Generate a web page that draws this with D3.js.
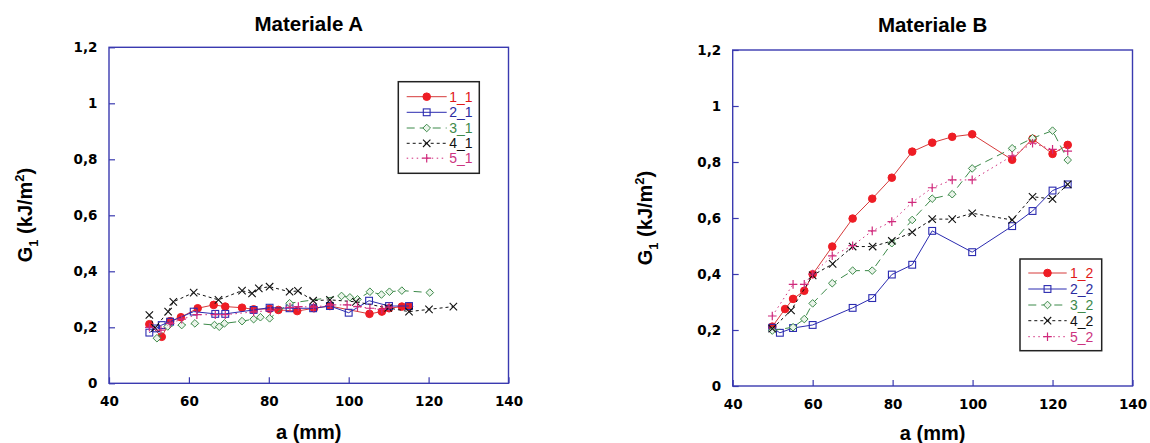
<!DOCTYPE html>
<html lang="it">
<head>
<meta charset="utf-8">
<title>Materiale A / B</title>
<script src="https://cdn.jsdelivr.net/npm/d3@7"></script>
<style>
  body { margin: 0; background: #fff; }
  svg text { font-family: "Liberation Sans", Arial, sans-serif; }
  svg .tick text { font-family: "DejaVu Sans", sans-serif; font-weight: bold; font-size: 13.5px; fill: #000; }
</style>
</head>
<body>
<svg id="chart" width="1150" height="443"></svg>
<script type="text/javascript">

//////////////////////////////////////
// data: [a (mm), G1 (kJ/m2)]

var xTicks = [40, 60, 80, 100, 120, 140];
var yTicks = [0, 0.2, 0.4, 0.6, 0.8, 1, 1.2];
var yTickLabels = ["0", "0,2", "0,4", "0,6", "0,8", "1", "1,2"];

var namesA = ["1_1", "2_1", "3_1", "4_1", "5_1"];
var namesB = ["1_2", "2_2", "3_2", "4_2", "5_2"];

var A1 = [[50.1,0.211],[53.2,0.166],[55.3,0.222],[58.0,0.236],[62.2,0.268],[66.2,0.280],[69.1,0.274],[73.3,0.270],[76.2,0.264],[80.2,0.266],[82.4,0.262],[87.1,0.258],[91.3,0.268],[95.3,0.276],[105.2,0.248],[108.3,0.256],[110.1,0.268],[113.3,0.274],[115.1,0.274]];
var A2 = [[50.1,0.181],[51.8,0.196],[53.2,0.208],[55.3,0.220],[61.2,0.256],[66.6,0.248],[69.1,0.248],[76.2,0.262],[80.2,0.270],[85.2,0.268],[91.1,0.268],[95.3,0.276],[100.0,0.252],[105.1,0.295],[110.1,0.276],[115.1,0.276]];
var A3 = [[52.0,0.161],[54.7,0.203],[58.2,0.208],[61.5,0.214],[66.4,0.208],[67.6,0.202],[68.9,0.214],[73.3,0.222],[76.2,0.229],[77.9,0.236],[80.2,0.232],[85.2,0.286],[98.2,0.312],[100.3,0.307],[102.2,0.300],[105.3,0.327],[108.2,0.317],[110.2,0.327],[113.3,0.331],[120.3,0.324]];
var A4 = [[50.1,0.244],[51.5,0.198],[54.8,0.256],[56.1,0.291],[61.2,0.324],[67.4,0.298],[73.3,0.331],[75.8,0.321],[77.5,0.339],[80.2,0.345],[85.2,0.327],[87.3,0.330],[91.1,0.295],[95.3,0.298],[101.8,0.291],[109.9,0.269],[115.1,0.256],[120.1,0.264],[126.2,0.274]];
var A5 = [[50.1,0.200],[53.0,0.190],[55.3,0.214],[58.2,0.229],[62.0,0.245],[66.6,0.245],[69.1,0.245],[76.2,0.255],[80.4,0.260],[85.3,0.271],[87.4,0.274],[91.2,0.272],[95.5,0.280],[99.6,0.280],[102.2,0.274],[105.3,0.268],[108.3,0.264],[110.1,0.272]];

var B1 = [[49.9,0.212],[53.1,0.275],[55.1,0.311],[57.9,0.340],[60.0,0.399],[64.9,0.498],[70.0,0.598],[74.9,0.669],[79.8,0.744],[84.9,0.837],[89.9,0.869],[94.9,0.890],[99.9,0.899],[109.9,0.808],[115.0,0.883],[120.0,0.829],[123.8,0.861]];
var B2 = [[49.9,0.208],[51.8,0.190],[55.1,0.207],[60.0,0.218],[70.0,0.279],[74.9,0.314],[79.8,0.398],[84.9,0.433],[89.9,0.554],[99.9,0.478],[109.9,0.571],[115.0,0.625],[120.0,0.698],[123.8,0.720]];
var B3 = [[49.9,0.198],[55.1,0.210],[57.9,0.239],[60.0,0.295],[64.9,0.367],[70.0,0.412],[74.9,0.412],[79.8,0.510],[84.9,0.593],[89.9,0.669],[94.9,0.685],[99.9,0.777],[109.9,0.849],[115.0,0.885],[120.0,0.912],[123.8,0.807]];
var B4 = [[49.9,0.205],[54.6,0.270],[60.0,0.395],[65.0,0.436],[70.0,0.498],[75.0,0.498],[79.8,0.518],[84.9,0.549],[89.9,0.596],[94.9,0.596],[99.9,0.617],[109.9,0.593],[115.0,0.676],[120.0,0.668],[123.8,0.720]];
var B5 = [[49.9,0.250],[55.1,0.363],[57.9,0.363],[60.0,0.400],[64.9,0.465],[70.0,0.501],[74.9,0.554],[79.8,0.587],[84.9,0.656],[89.9,0.708],[94.9,0.736],[99.9,0.736],[109.9,0.822],[115.0,0.867],[120.0,0.845],[123.8,0.839]];

//////////////////////////////////////
// series look (same for both panels)
var styles = [
  {marker: "circle",  line: "#d63a3a", mark: "#ee1c24", text: "#e01818", dash: null},
  {marker: "square",  line: "#2b2bb0", mark: "#2b2bb0", text: "#2b2ba0", dash: null},
  {marker: "diamond", line: "#3d8a4a", mark: "#3d8a4a", text: "#3d8a4a", dash: "8,5"},
  {marker: "cross",   line: "#111111", mark: "#111111", text: "#111111", dash: "3,3"},
  {marker: "plus",    line: "#d02a7c", mark: "#d02a7c", text: "#cc3380", dash: "1.5,3.5"}
];

var frameColor = "#3a3ab0";
var svg = d3.select("#chart");

function drawMarker(g, type, cx, cy, color) {
  if (type === "circle") {
    g.append("circle").attr("cx", cx).attr("cy", cy).attr("r", 3.8)
      .attr("fill", color).attr("stroke", color);
  } else if (type === "square") {
    g.append("rect").attr("x", cx - 3.4).attr("y", cy - 3.4)
      .attr("width", 6.8).attr("height", 6.8)
      .attr("fill", "none").attr("stroke", color).attr("stroke-width", 1.1);
  } else if (type === "diamond") {
    var s = 3.8;
    g.append("path")
      .attr("d", "M" + cx + "," + (cy - s) + "L" + (cx + s) + "," + cy + "L" + cx + "," + (cy + s) + "L" + (cx - s) + "," + cy + "Z")
      .attr("fill", "#eaf4ea").attr("stroke", color).attr("stroke-width", 1);
  } else if (type === "cross") {
    var c = 3.7;
    g.append("path")
      .attr("d", "M" + (cx - c) + "," + (cy - c) + "L" + (cx + c) + "," + (cy + c) + "M" + (cx - c) + "," + (cy + c) + "L" + (cx + c) + "," + (cy - c))
      .attr("stroke", color).attr("stroke-width", 1.1);
  } else {
    var p = 4.3;
    g.append("path")
      .attr("d", "M" + (cx - p) + "," + cy + "L" + (cx + p) + "," + cy + "M" + cx + "," + (cy - p) + "L" + cx + "," + (cy + p))
      .attr("stroke", color).attr("stroke-width", 1.2);
  }
}

//////////////////////////////////////
// one panel
function drawPanel(cfg) {
  var x = d3.scaleLinear().domain([40, 140]).range([cfg.left, cfg.right]);
  var y = d3.scaleLinear().domain([0, 1.2]).range([cfg.bottom, cfg.top]);
  var g = svg.append("g");
  var midX = (cfg.left + cfg.right) / 2;

  // title
  g.append("text").attr("x", midX).attr("y", cfg.titleY)
    .attr("text-anchor", "middle").attr("font-size", 20.5).attr("font-weight", "bold")
    .text(cfg.title);

  // axes, ticks pointing inward
  var xAxis = d3.axisBottom(x).tickValues(xTicks).tickSizeInner(-6).tickSizeOuter(0).tickPadding(13);
  var yAxis = d3.axisLeft(y).tickValues(yTicks)
    .tickFormat(function(d, i) { return yTickLabels[i]; })
    .tickSizeInner(-6).tickSizeOuter(0).tickPadding(11.5);

  var gx = g.append("g").attr("transform", "translate(0," + cfg.bottom + ")").call(xAxis);
  var gy = g.append("g").attr("transform", "translate(" + cfg.left + ",0)").call(yAxis);
  [gx, gy].forEach(function(a) {
    a.attr("font-size", null).attr("font-family", null);
    a.select(".domain").remove();
    a.selectAll(".tick line").attr("stroke", frameColor).attr("stroke-width", 1.2);
  });

  // frame
  g.append("rect").attr("x", cfg.left).attr("y", cfg.top)
    .attr("width", cfg.right - cfg.left).attr("height", cfg.bottom - cfg.top)
    .attr("fill", "none").attr("stroke", frameColor).attr("stroke-width", 1.4);

  // axis titles
  g.append("text").attr("x", midX).attr("y", cfg.xLabelY)
    .attr("text-anchor", "middle").attr("font-size", 20).attr("font-weight", "bold")
    .text("a (mm)");

  var yl = g.append("text")
    .attr("transform", "translate(" + cfg.yLabelX + "," + cfg.yLabelY + ") rotate(-90)")
    .attr("text-anchor", "middle").attr("font-size", 20).attr("font-weight", "bold");
  yl.append("tspan").text("G");
  yl.append("tspan").attr("font-size", 13).attr("dy", 6).text("1");
  yl.append("tspan").attr("dy", -6).text(" (kJ/m");
  yl.append("tspan").attr("font-size", 13).attr("dy", -8).text("2");
  yl.append("tspan").attr("dy", 8).text(")");

  // series
  var line = d3.line().x(function(d) { return x(d[0]); }).y(function(d) { return y(d[1]); });
  cfg.series.forEach(function(data, i) {
    var st = styles[i];
    var sg = g.append("g");
    sg.append("path").datum(data).attr("d", line)
      .attr("fill", "none").attr("stroke", st.line).attr("stroke-width", 1)
      .attr("stroke-dasharray", st.dash);
    data.forEach(function(d) { drawMarker(sg, st.marker, x(d[0]), y(d[1]), st.mark); });
  });

  // legend
  var L = cfg.legend;
  var lg = g.append("g");
  lg.append("rect").attr("x", L.x0).attr("y", L.y0)
    .attr("width", L.x1 - L.x0).attr("height", L.y1 - L.y0)
    .attr("fill", "#fff").attr("stroke", "#222").attr("stroke-width", 1.5);
  cfg.names.forEach(function(name, i) {
    var st = styles[i];
    var ly = L.rows[i];
    lg.append("line").attr("x1", L.lineX0).attr("x2", L.lineX1).attr("y1", ly).attr("y2", ly)
      .attr("stroke", st.line).attr("stroke-width", 1).attr("stroke-dasharray", st.dash);
    drawMarker(lg, st.marker, (L.lineX0 + L.lineX1) / 2, ly, st.mark);
    lg.append("text").attr("x", L.textX).attr("y", ly).attr("dy", "0.36em")
      .attr("font-size", 14).attr("fill", st.text).text(name);
  });
}

drawPanel({
  title: "Materiale A",
  left: 109, right: 508.5, top: 47.3, bottom: 383.3,
  titleY: 31, xLabelY: 438.5, yLabelX: 32, yLabelY: 215,
  names: namesA,
  series: [A1, A2, A3, A4, A5],
  legend: {x0: 398.3, x1: 479.3, y0: 81.7, y1: 173.3,
           rows: [96.7, 112.3, 128, 143.3, 158.2],
           lineX0: 406.7, lineX1: 446.7, textX: 449.3}
});

drawPanel({
  title: "Materiale B",
  left: 732.7, right: 1132.5, top: 50, bottom: 386,
  titleY: 32, xLabelY: 440, yLabelX: 652, yLabelY: 218,
  names: namesB,
  series: [B1, B2, B3, B4, B5],
  legend: {x0: 1020, x1: 1101.7, y0: 259, y1: 350.7,
           rows: [273, 289, 305, 320.7, 336.7],
           lineX0: 1028.3, lineX1: 1066.7, textX: 1070}
});

</script>
</body>
</html>
